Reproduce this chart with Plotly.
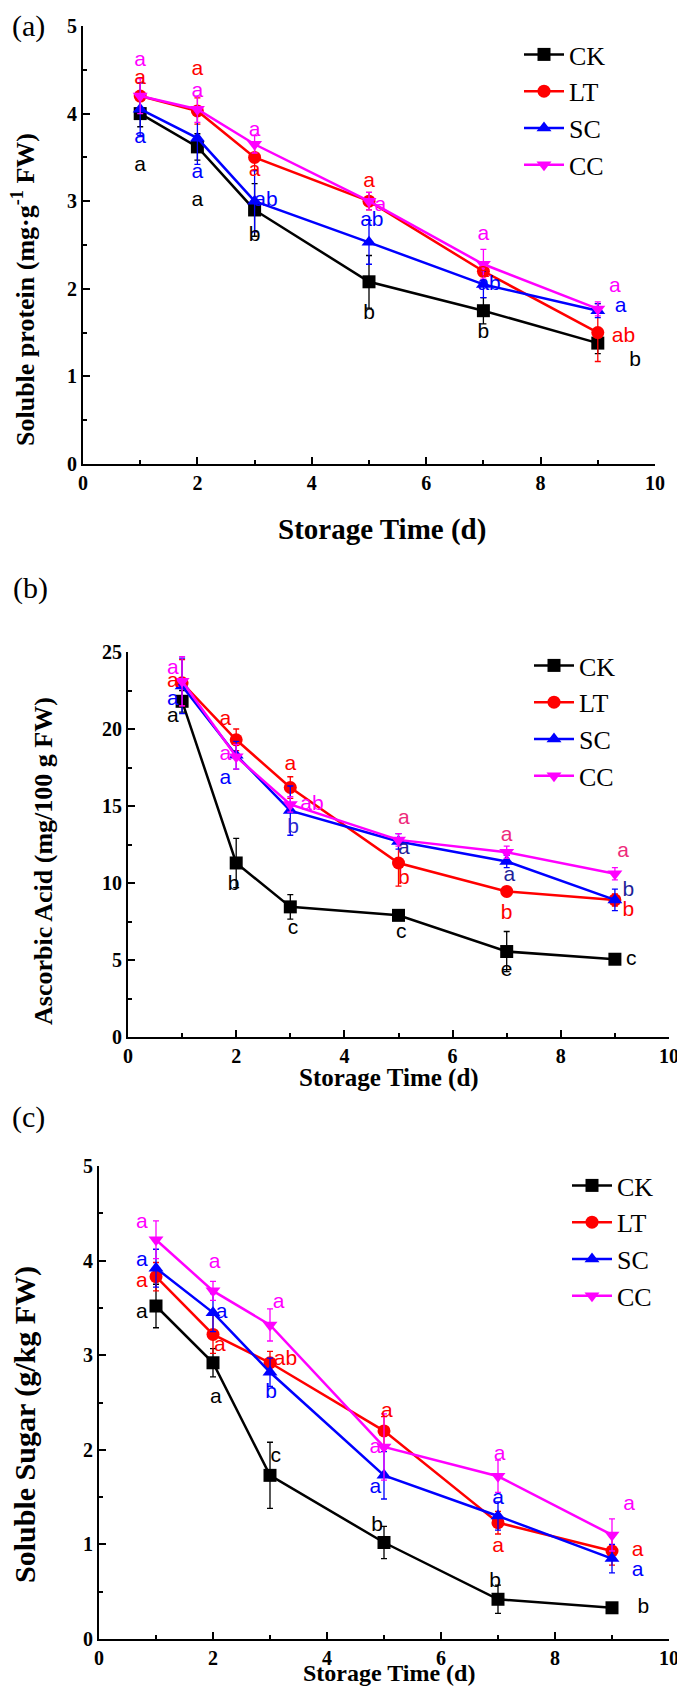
import plotly.graph_objects as go

# storage days
days = [1, 2, 3, 5, 7, 9]
groups = ["CK", "LT", "SC", "CC"]

# (a) soluble protein, mg/g FW
protein_mean = [
    [4.0, 3.62, 2.9, 2.08, 1.75, 1.38],
    [4.2, 4.03, 3.5, 3.0, 2.2, 1.5],
    [4.05, 3.72, 3.0, 2.53, 2.05, 1.75],
    [4.2, 4.05, 3.65, 3.0, 2.28, 1.77],
]
protein_err = [
    [0.15, 0.15, 0.3, 0.3, 0.15, 0.12],
    [0.15, 0.15, 0.15, 0.1, 0.1, 0.33],
    [0.3, 0.3, 0.35, 0.25, 0.15, 0.08],
    [0.2, 0.15, 0.1, 0.1, 0.17, 0.08],
]
protein_letters = [
    ["a", "a", "b", "b", "b", "b"],
    ["a", "a", "a", "a", "a", "ab"],
    ["a", "a", "ab", "ab", "ab", "a"],
    ["a", "a", "a", "a", "a", "a"],
]

# (b) ascorbic acid, mg/100 g FW
vc_mean = [
    [21.8, 11.3, 8.45, 7.9, 5.55, 5.05],
    [23.0, 19.3, 16.2, 11.3, 9.45, 8.9],
    [22.8, 18.3, 14.7, 12.7, 11.4, 8.9],
    [23.1, 18.2, 15.1, 12.8, 12.0, 10.6],
]
vc_err = [
    [0.7, 1.6, 0.8, 0.2, 1.3, 0.2],
    [1.5, 0.7, 0.7, 1.5, 0.3, 0.4],
    [1.8, 0.9, 1.6, 0.5, 0.4, 0.7],
    [1.6, 0.8, 0.5, 0.4, 0.4, 0.4],
]
vc_letters = [
    ["a", "b", "c", "c", "e", "c"],
    ["a", "a", "a", "b", "b", "b"],
    ["a", "a", "b", "a", "a", "b"],
    ["a", "a", "ab", "a", "a", "a"],
]

# (c) soluble sugar, g/kg FW
sugar_mean = [
    [3.52, 2.92, 1.73, 1.02, 0.42, 0.33],
    [3.83, 3.22, 2.92, 2.2, 1.23, 0.93],
    [3.92, 3.45, 2.82, 1.73, 1.3, 0.85],
    [4.22, 3.68, 3.32, 2.03, 1.72, 1.1],
]
sugar_err = [
    [0.23, 0.15, 0.35, 0.17, 0.15, 0.03],
    [0.15, 0.2, 0.12, 0.15, 0.12, 0.15],
    [0.2, 0.2, 0.15, 0.25, 0.15, 0.15],
    [0.2, 0.1, 0.17, 0.35, 0.17, 0.17],
]
sugar_letters = [
    ["a", "a", "c", "b", "b", "b"],
    ["a", "a", "ab", "a", "a", "a"],
    ["a", "a", "b", "a", "a", "a"],
    ["a", "a", "a", "a", "a", "a"],
]

colors = ["#000000", "#ff0000", "#0000ff", "#ff00ff"]
symbols = ["square", "circle", "triangle-up", "triangle-down"]

# where the significance letters sit (x, y in data units)
protein_label_pos = [
    [(1, 3.4), (2, 3.0), (3, 2.6), (5, 1.72), (7, 1.5), (9.65, 1.18)],
    [(1, 4.4), (2, 4.5), (3, 3.35), (5, 3.22), (7, 2.2), (9.45, 1.45)],
    [(1, 3.72), (2, 3.32), (3.2, 3.0), (5.05, 2.78), (7.1, 2.05), (9.4, 1.8)],
    [(1, 4.6), (2, 4.25), (3, 3.8), (5.2, 2.95), (7, 2.62), (9.3, 2.02)],
]
vc_label_pos = [
    [(0.83, 20.8), (1.95, 9.9), (3.05, 7.0), (5.05, 6.8), (7, 4.3), (9.3, 5.0)],
    [(0.83, 23.1), (1.8, 20.6), (3, 17.7), (5.1, 10.3), (7, 8.0), (9.25, 8.2)],
    [(0.83, 21.9), (1.8, 16.8), (3.05, 13.6), (5.1, 12.2), (7.05, 10.5), (9.25, 9.5)],
    [(0.83, 23.9), (1.8, 18.3), (3.4, 15.1), (5.1, 14.2), (7, 13.1), (9.15, 12.0)],
]
sugar_label_pos = [
    [(0.75, 3.45), (2.05, 2.55), (3.1, 1.93), (4.88, 1.2), (6.95, 0.6), (9.55, 0.33)],
    [(0.75, 3.78), (2.12, 3.1), (3.27, 2.95), (5.05, 2.4), (7, 0.98), (9.45, 0.93)],
    [(0.75, 4.0), (2.15, 3.45), (3.02, 2.6), (4.85, 1.6), (7, 1.48), (9.45, 0.72)],
    [(0.75, 4.4), (2.03, 3.98), (3.15, 3.55), (4.85, 2.02), (7.03, 1.95), (9.3, 1.42)],
]
# panel (b) letters for SC / CC at later days look navy / pink
vc_letter_colors = [
    [colors[0]] * 6,
    [colors[1]] * 6,
    ["#0000ff", "#0000ff", "#2a2ad0", "#1f1f99", "#1f1f99", "#1f1f99"],
    ["#ff00ff", "#ff00ff", "#ff00ff", "#ee2a7b", "#ee2a7b", "#ee2a7b"],
]

W, H = 685, 1687
fig = go.Figure()

panels = [
    ("x", "y", "legend", protein_mean, protein_err, protein_letters, protein_label_pos, None),
    ("x2", "y2", "legend2", vc_mean, vc_err, vc_letters, vc_label_pos, vc_letter_colors),
    ("x3", "y3", "legend3", sugar_mean, sugar_err, sugar_letters, sugar_label_pos, None),
]

for xa, ya, lg, means, errs, letters, pos, lcols in panels:
    for i, g in enumerate(groups):
        fig.add_trace(go.Scatter(
            x=days, y=means[i], name=g, xaxis=xa, yaxis=ya, legend=lg,
            mode="lines+markers",
            line=dict(color=colors[i], width=2.5),
            marker=dict(symbol=symbols[i], size=13, color=colors[i]),
            error_y=dict(type="data", array=errs[i], color=colors[i],
                         thickness=1.3, width=3),
        ))
    for i, g in enumerate(groups):
        fig.add_trace(go.Scatter(
            x=[p[0] for p in pos[i]], y=[p[1] for p in pos[i]],
            xaxis=xa, yaxis=ya, mode="text", text=letters[i],
            textfont=dict(family="Liberation Sans Narrow, Liberation Sans", size=21,
                          color=lcols[i] if lcols else colors[i]),
            showlegend=False, hoverinfo="skip",
        ))


def px_x(p):
    return p / W


def px_y(p):
    return 1 - p / H


tickfont = dict(family="Liberation Serif", size=20, color="black", weight="bold")
axis_common = dict(showline=True, linewidth=2, linecolor="black", ticks="inside",
                   ticklen=7, tickwidth=2, tickcolor="black", showgrid=False,
                   zeroline=False, tickfont=tickfont, automargin=False)

# plot-area pixel boxes: (left, right, top, bottom)
boxes = [(75, 647, 18, 456), (120, 661, 644, 1029), (91, 661, 1158, 1631)]
yranges = [(0, 5, 1, 0.5), (0, 25, 5, 2.5), (0, 5, 1, 0.5)]

layout = {}
for k, (box, yr) in enumerate(zip(boxes, yranges)):
    s = "" if k == 0 else str(k + 1)
    l, r, t, b = box
    layout["xaxis" + s] = dict(axis_common, domain=[px_x(l), px_x(r)],
                               anchor="y" + s, range=[0, 10], dtick=2,
                               minor=dict(dtick=1, ticks="inside", ticklen=4,
                                          tickwidth=2, tickcolor="black"))
    layout["yaxis" + s] = dict(axis_common, domain=[px_y(b), px_y(t)],
                               anchor="x" + s, range=[yr[0], yr[1]], dtick=yr[2],
                               minor=dict(dtick=yr[3], ticks="inside", ticklen=4,
                                          tickwidth=2, tickcolor="black"))

legfont = dict(family="Liberation Serif", size=26, color="black")
legpos = [(511, 23), (521, 634), (559, 1154)]
for k, (lx, ly) in enumerate(legpos):
    name = "legend" if k == 0 else "legend" + str(k + 1)
    layout[name] = dict(x=px_x(lx), y=px_y(ly), xanchor="left", yanchor="top",
                        font=legfont, bgcolor="rgba(0,0,0,0)", itemwidth=40,
                        tracegroupgap=0)

fig.update_layout(**layout)

anns = [
    ("Soluble protein (mg·g<sup>-1</sup> FW)", 16, 282, -90, 26),
    ("Ascorbic Acid (mg/100 g FW)", 35, 853, -90, 26),
    ("Soluble Sugar (g/kg FW)", 17, 1417, -90, 30),
    ("Storage Time (d)", 374, 521, 0, 29),
    ("Storage Time (d)", 381, 1070, 0, 25),
    ("Storage Time (d)", 381, 1665, 0, 24),
]
for text, ax, ay, ang, fs in anns:
    fig.add_annotation(text=text, x=px_x(ax), y=px_y(ay), xref="paper", yref="paper",
                       showarrow=False, textangle=ang,
                       font=dict(family="Liberation Serif", size=fs, color="black",
                                 weight="bold"),
                       xanchor="center", yanchor="middle")

for text, ax, ay in [("(a)", 20, 18), ("(b)", 22, 580), ("(c)", 20, 1109)]:
    fig.add_annotation(text=text, x=px_x(ax), y=px_y(ay), xref="paper", yref="paper",
                       showarrow=False,
                       font=dict(family="Liberation Serif", size=30, color="black"),
                       xanchor="center", yanchor="middle")

fig.update_layout(width=W, height=H, margin=dict(l=0, r=0, t=0, b=0),
                  plot_bgcolor="white", paper_bgcolor="white", showlegend=True)

fig.write_html("out.html")
